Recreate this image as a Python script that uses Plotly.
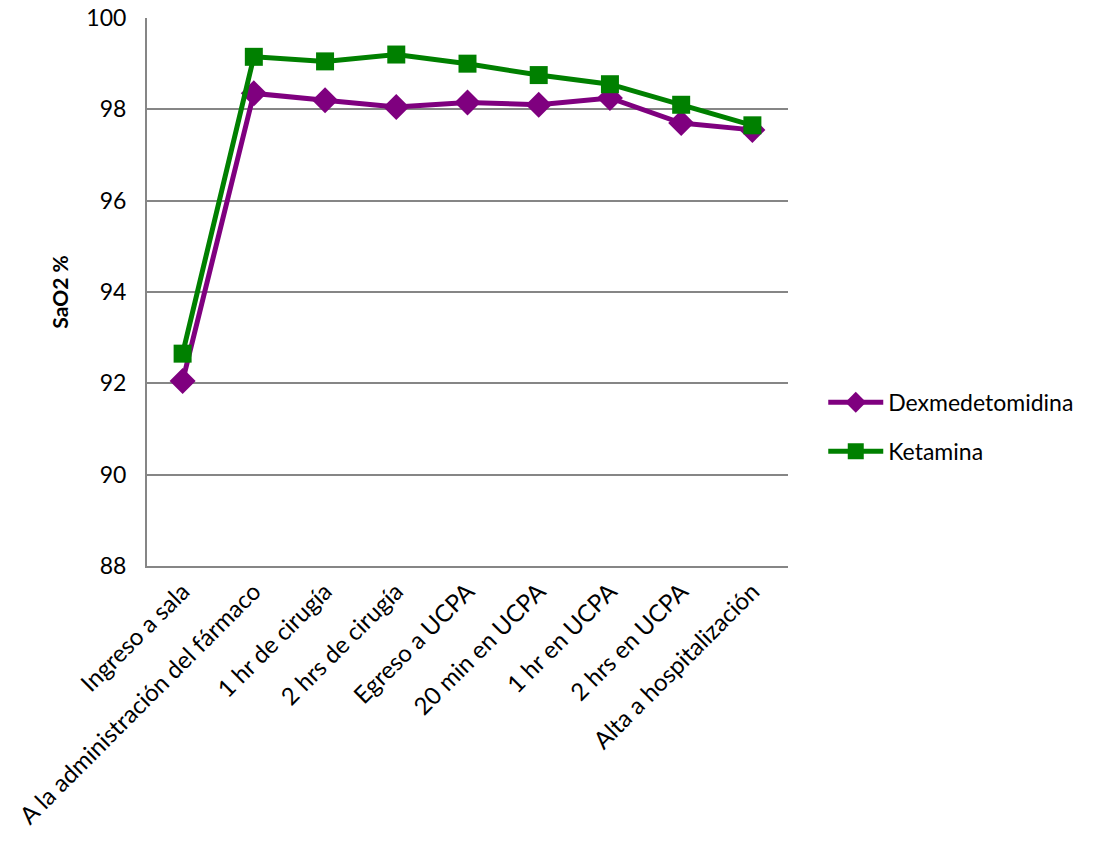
import plotly.graph_objects as go

categories = [
    "Ingreso a sala",
    "A la administración del fármaco",
    "1 hr de cirugía",
    "2 hrs de cirugía",
    "Egreso a UCPA",
    "20 min en UCPA",
    "1 hr en UCPA",
    "2 hrs en UCPA",
    "Alta a hospitalización",
]
dexmedetomidina = [92.05, 98.35, 98.2, 98.05, 98.15, 98.1, 98.25, 97.7, 97.55]
ketamina = [92.65, 99.15, 99.05, 99.2, 99.0, 98.75, 98.55, 98.1, 97.65]
y_ticks = [88, 90, 92, 94, 96, 98, 100]

FONT = "Lato"
SIZE = 23

fig = go.Figure()
fig.add_trace(go.Scatter(
    x=categories, y=dexmedetomidina, name="Dexmedetomidina",
    mode="lines+markers", legendgroup="a",
    line=dict(color="#7F007F", width=5),
    marker=dict(symbol="diamond", size=20, color="#7F007F"),
))
fig.add_trace(go.Scatter(
    x=categories, y=ketamina, name="Ketamina",
    mode="lines+markers", legendgroup="b",
    line=dict(color="#008000", width=5),
    marker=dict(symbol="square", size=18, color="#008000"),
))

fig.update_layout(
    width=1099, height=844,
    margin=dict(l=147, r=311, t=18, b=278),
    paper_bgcolor="white", plot_bgcolor="white",
    font=dict(family=FONT, size=SIZE, color="black"),
    showlegend=True,
    legend=dict(
        x=1.055, y=0.254, xanchor="left", yanchor="middle",
        font=dict(family=FONT, size=SIZE),
        itemwidth=55, tracegroupgap=16, traceorder="grouped",
    ),
    xaxis=dict(
        type="category", range=[-0.5, 8.5], automargin=False,
        tickangle=-45, showgrid=False,
        showline=True, linecolor="#868686", linewidth=2,
        ticks="", tickfont=dict(family=FONT, size=24),
    ),
    yaxis=dict(
        range=[88, 100], tickvals=y_ticks, automargin=False,
        showgrid=True, gridcolor="#868686", gridwidth=1.5,
        showline=True, linecolor="#868686", linewidth=2,
        ticks="", ticklen=0, ticklabelstandoff=14,
        tickfont=dict(family=FONT, size=SIZE),
        zeroline=False,
        title=dict(text="<b>SaO2 %</b>", font=dict(family=FONT, size=21), standoff=12),
    ),
)

fig.write_html("out.html")
